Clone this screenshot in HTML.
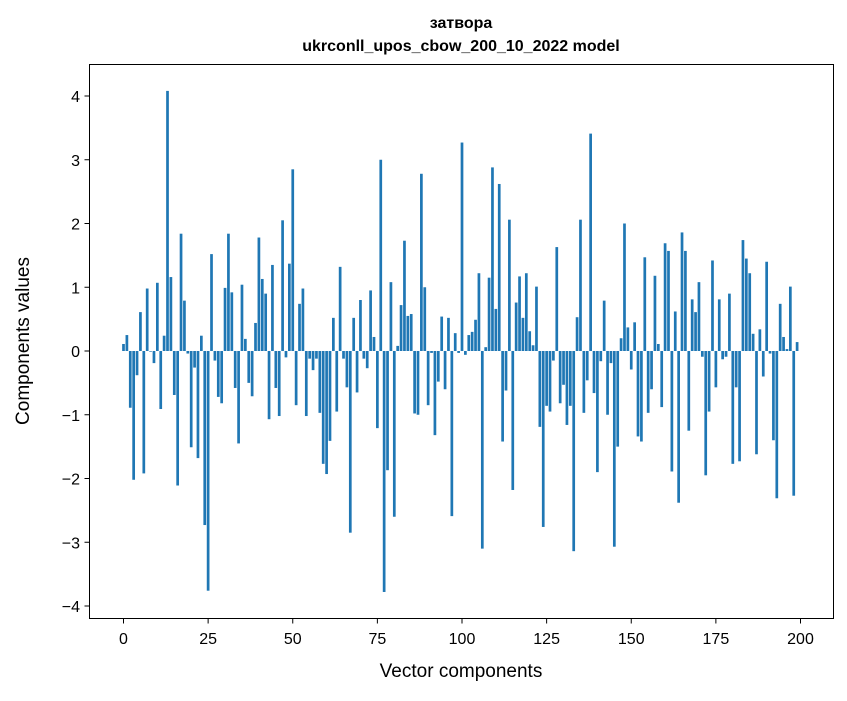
<!DOCTYPE html>
<html><head><meta charset="utf-8"><style>
body{margin:0;background:#fff;}
svg{font-family:"Liberation Sans","DejaVu Sans",sans-serif;}
</style></head><body>
<svg id="chart" width="847" height="696">
<text x="461" y="28" text-anchor="middle" font-size="16" font-weight="bold">затвора</text>
<text x="461" y="51" text-anchor="middle" font-size="16" font-weight="bold">ukrconll_upos_cbow_200_10_2022 model</text>
<g id="bars"></g>
<g id="xticks"></g>
<g id="yticks"></g>
<rect x="89.5" y="64.5" width="744" height="554" fill="none" stroke="#000" stroke-width="1"/>
<text x="461" y="677" text-anchor="middle" font-size="19">Vector components</text>
<text transform="translate(29,341) rotate(-90)" text-anchor="middle" font-size="19">Components values</text>
</svg>
<script>
const values = [0.11,0.25,-0.89,-2.02,-0.38,0.61,-1.92,0.98,-0.01,-0.19,
1.07,-0.91,0.24,4.08,1.16,-0.69,-2.11,1.84,0.79,-0.04,
-1.51,-0.26,-1.68,0.24,-2.73,-3.76,1.52,-0.15,-0.72,-0.82,
0.99,1.84,0.92,-0.58,-1.45,1.04,0.19,-0.5,-0.71,0.44,
1.78,1.13,0.9,-1.07,1.35,-0.58,-1.02,2.05,-0.1,1.37,
2.85,-0.85,0.74,0.98,-1.02,-0.12,-0.3,-0.12,-0.97,-1.77,
-1.93,-1.41,0.52,-0.95,1.32,-0.12,-0.57,-2.85,0.52,-0.65,
0.8,-0.12,-0.27,0.95,0.22,-1.21,3.0,-3.78,-1.87,1.08,
-2.6,0.08,0.72,1.73,0.55,0.58,-0.98,-1.0,2.78,1.0,
-0.85,-0.03,-1.32,-0.48,0.54,-0.6,0.52,-2.59,0.28,-0.03,
3.27,-0.06,0.25,0.3,0.49,1.22,-3.1,0.06,1.15,2.88,
0.66,2.62,-1.42,-0.62,2.06,-2.18,0.76,1.17,0.52,1.22,
0.31,0.09,1.01,-1.19,-2.76,-0.86,-0.95,-0.15,1.63,-0.82,
-0.53,-1.16,-0.86,-3.14,0.53,2.06,-0.97,-0.46,3.41,-0.66,
-1.9,-0.16,0.79,-1.0,-0.19,-3.07,-1.5,0.2,2.0,0.37,
-0.29,0.45,-1.34,-1.42,1.47,-0.97,-0.6,1.18,0.11,-0.88,
1.69,1.57,-1.89,0.62,-2.38,1.86,1.57,-1.25,0.81,0.61,
1.08,-0.09,-1.95,-0.95,1.42,-0.57,0.81,-0.13,-0.09,0.9,
-1.77,-0.57,-1.73,1.74,1.45,1.22,0.27,-1.62,0.34,-0.4,
1.4,-0.04,-1.4,-2.31,0.74,0.22,0.03,1.01,-2.27,0.14];
const xTickValues = [0,25,50,75,100,125,150,175,200];
const yTickValues = [-4,-3,-2,-1,0,1,2,3,4];

const NS="http://www.w3.org/2000/svg";
function xs(v){return 123.5+(800.5-123.5)*v/200;}
function ys(v){return 351-63.75*v;}
const bw=(xs(1)-xs(0))*0.8;
const gb=document.getElementById('bars');
values.forEach((v,i)=>{
  const r=document.createElementNS(NS,'rect');
  r.setAttribute('x',xs(i)-bw/2);
  r.setAttribute('y',Math.min(ys(v),ys(0)));
  r.setAttribute('width',bw);
  r.setAttribute('height',Math.abs(ys(v)-ys(0)));
  r.setAttribute('fill','#1f77b4');
  
  
  gb.appendChild(r);
});
const gx=document.getElementById('xticks');
xTickValues.forEach(t=>{
  const l=document.createElementNS(NS,'line');
  l.setAttribute('x1',xs(t));l.setAttribute('x2',xs(t));
  l.setAttribute('y1',618.5);l.setAttribute('y2',623.5);
  l.setAttribute('stroke','#000');
  
  
  gx.appendChild(l);
  const tx=document.createElementNS(NS,'text');
  tx.setAttribute('x',xs(t));tx.setAttribute('y',644);
  tx.setAttribute('text-anchor','middle');tx.setAttribute('font-size','16');
  tx.textContent=t;
  
  
  gx.appendChild(tx);
});
const gy=document.getElementById('yticks');
yTickValues.forEach(t=>{
  const l=document.createElementNS(NS,'line');
  l.setAttribute('x1',84.5);l.setAttribute('x2',89.5);
  l.setAttribute('y1',ys(t));l.setAttribute('y2',ys(t));
  l.setAttribute('stroke','#000');
  
  
  gy.appendChild(l);
  const tx=document.createElementNS(NS,'text');
  tx.setAttribute('x',80);tx.setAttribute('y',ys(t)+6);
  tx.setAttribute('text-anchor','end');tx.setAttribute('font-size','16');
  tx.textContent=t<0?'\u2212'+Math.abs(t):String(t);
  
  
  gy.appendChild(tx);
});
</script>
</body></html>
